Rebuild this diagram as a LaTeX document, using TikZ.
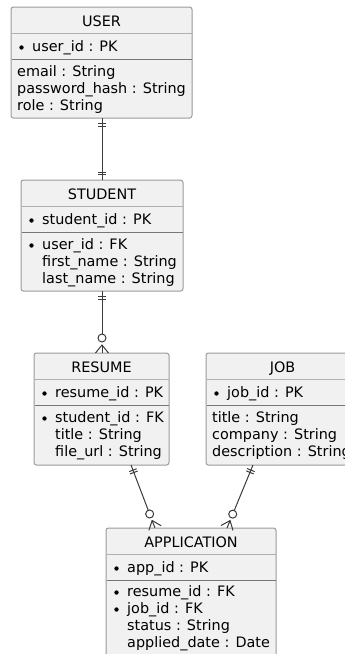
\documentclass[tikz,border=0pt]{standalone}
\usepackage{fontspec}
\setmainfont{DejaVu Sans}
\usetikzlibrary{calc}
\definecolor{boxfill}{HTML}{F1F1F1}
\definecolor{boxline}{HTML}{9A9A9A}
\definecolor{sepline}{HTML}{B0B0B0}
\definecolor{pkline}{HTML}{777777}
\definecolor{connline}{HTML}{3A3A3A}
\tikzset{
  ebox/.style={rectangle, draw=boxline, fill=boxfill, line width=1pt, rounded corners=2.5pt, inner sep=0pt, outer sep=0pt},
  etitle/.style={anchor=base, inner sep=0pt, font=\fontsize{14.4}{17}\selectfont},
  attr/.style={anchor=base west, inner sep=0pt, font=\fontsize{14.4}{17}\selectfont},
  titlesep/.style={draw=sepline, line width=1pt},
  pksep/.style={draw=pkline, line width=1.6pt},
  conn/.style={draw=connline, line width=1pt},
}
\newcommand\erbox[6]{% name, left, top, width, height, title
  \node[ebox, minimum width=#4pt, minimum height=#5pt] (#1) at ({#2+#4/2},{#3+#5/2}) {};
  \draw[titlesep] ([xshift=0.5pt,yshift=-26.7pt]#1.north west) -- ([xshift=-0.5pt,yshift=-26.7pt]#1.north east);
  \draw[pksep] ([xshift=0.5pt,yshift=-52.5pt]#1.north west) -- ([xshift=-0.5pt,yshift=-52.5pt]#1.north east);
  \node[etitle] (#1-title) at ([yshift=-19.5pt]#1.north) {#6};
}
% name, node suffix, line offset (baseline from top), text, indent
\newcommand\erattr[4]{% box, id, baseline offset, text (indented, no bullet)
  \node[attr] (#1-#2) at ([xshift=21pt,yshift=-#3pt]#1.north west) {#4};
}
\newcommand\erkey[4]{% bulleted line
  \fill[black] ([xshift=10.5pt,yshift={-(#3-4)*1pt}]#1.north west) circle (2.2pt);
  \node[attr] (#1-#2) at ([xshift=21pt,yshift=-#3pt]#1.north west) {#4};
}
\newcommand\erplain[4]{% unindented line
  \node[attr] (#1-#2) at ([xshift=6pt,yshift=-#3pt]#1.north west) {#4};
}
\newcommand\mkone[2]{% #1 end at box, #2 other end
  \draw[conn] ($(#1)!5.5pt!(#2)!4pt!90:(#2)$) -- ($(#1)!5.5pt!(#2)!4pt!-90:(#2)$);
  \draw[conn] ($(#1)!8pt!(#2)!4pt!90:(#2)$) -- ($(#1)!8pt!(#2)!4pt!-90:(#2)$);
}
\newcommand\mkmany[2]{% #1 end at box, #2 other end
  \draw[conn, fill=white] ($(#1)!15pt!(#2)$) circle (4pt);
  \draw[conn] ($(#1)!6.5pt!90:(#2)$) -- ($(#1)!8pt!(#2)$) -- ($(#1)!6.5pt!-90:(#2)$);
  \draw[conn] ($(#1)!8pt!(#2)$) -- (#1);
}
\begin{document}
\begin{tikzpicture}[x=1pt, y=-1pt]
\clip (0,0) rectangle (345,654);
\fill[white] (0,0) rectangle (345,654);

% USER
\erbox{user}{11}{7}{181}{111}{USER}
\erkey{user}{a1}{44.5}{user\_id : PK}
\erplain{user}{a2}{69.5}{email : String}
\erplain{user}{a3}{86.5}{password\_hash : String}
\erplain{user}{a4}{103.5}{role : String}

% STUDENT
\erbox{student}{21}{180}{162}{111}{STUDENT}
\erkey{student}{a1}{44.5}{student\_id : PK}
\erkey{student}{a2}{69.5}{user\_id : FK}
\erattr{student}{a3}{86.5}{first\_name : String}
\erattr{student}{a4}{103.5}{last\_name : String}

% RESUME
\erbox{resume}{34}{353}{135}{112}{RESUME}
\erkey{resume}{a1}{44.5}{resume\_id : PK}
\erkey{resume}{a2}{69.5}{student\_id : FK}
\erattr{resume}{a3}{86.5}{title : String}
\erattr{resume}{a4}{103.5}{file\_url : String}

% JOB
\erbox{job}{206}{353}{153}{112}{JOB}
\erkey{job}{a1}{44.5}{job\_id : PK}
\erplain{job}{a2}{69.5}{title : String}
\erplain{job}{a3}{86.5}{company : String}
\erplain{job}{a4}{103.5}{description : String}

% APPLICATION
\erbox{app}{106}{528}{170}{129}{APPLICATION}
\erkey{app}{a1}{44.5}{app\_id : PK}
\erkey{app}{a2}{68.5}{resume\_id : FK}
\erkey{app}{a3}{85.5}{job\_id : FK}
\erattr{app}{a4}{102.5}{status : String}
\erattr{app}{a5}{119.5}{applied\_date : Date}

% connector end points
\coordinate (us) at ([xshift=91pt]user.south west);
\coordinate (sn) at ([xshift=81pt]student.north west);
\coordinate (ss) at ([xshift=81pt]student.south west);
\coordinate (rn) at ([xshift=68pt]resume.north west);
\coordinate (rs) at ([xshift=97pt]resume.south west);
\coordinate (ar) at ([xshift=49pt]app.north west);
\coordinate (js) at ([xshift=47pt]job.south west);
\coordinate (aj) at ([xshift=121pt]app.north west);

% USER -- STUDENT
\draw[conn] (us) -- (sn);
\mkone{us}{sn}
\mkone{sn}{us}
% STUDENT -- RESUME
\draw[conn] (ss) -- ($(rn)!19pt!(ss)$);
\mkone{ss}{rn}
\mkmany{rn}{ss}
% RESUME -- APPLICATION
\draw[conn] (rs) -- ($(ar)!19pt!(rs)$);
\mkone{rs}{ar}
\mkmany{ar}{rs}
% JOB -- APPLICATION
\draw[conn] (js) -- ($(aj)!19pt!(js)$);
\mkone{js}{aj}
\mkmany{aj}{js}
\end{tikzpicture}
\end{document}
